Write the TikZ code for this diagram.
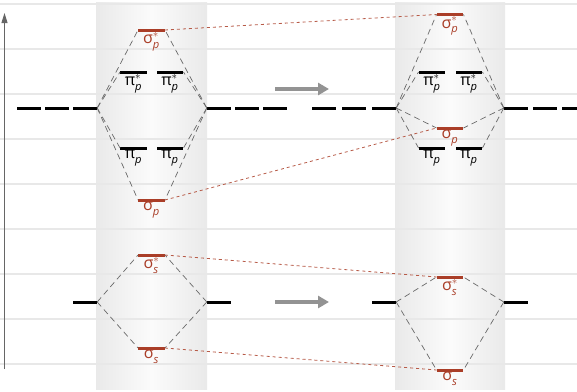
\documentclass[tikz,border=0pt]{standalone}
\usepackage{amsmath}
\usepackage{fontspec}
\newfontfamily\orbfont{Open Sans}
\usetikzlibrary{arrows.meta}
\definecolor{orbred}{RGB}{170,62,40}
\definecolor{gridgray}{RGB}{232,232,232}
\definecolor{conngray}{RGB}{105,105,105}
\newcommand{\mo}[3]{$\text{#1}_{\text{\itshape #2}}^{#3}$}

\begin{document}
\begin{tikzpicture}[x=1pt,y=-1pt,
  bar/.style={fill=#1,inner sep=0pt,minimum height=3pt,minimum width=26.5pt},
  bar/.default=black,
  ao/.style={bar,minimum width=24pt},
  every label/.style={font=\orbfont\fontsize{16}{18}\selectfont,inner sep=0.5pt},
  conn/.style={conngray,line width=0.7pt,dash pattern=on 6pt off 4pt},
  corr/.style={orbred!85,line width=0.8pt,dash pattern=on 3pt off 3pt},
  shiftarrow/.style={gray!85,line width=4pt,-{Triangle[length=11pt,width=12pt]}}]
\useasboundingbox (0,0) rectangle (577,391);
% columns and grid
\shade[left color=gray!17,right color=gray!17,middle color=gray!3] (96,2) rectangle (207,389);
\shade[left color=gray!17,right color=gray!17,middle color=gray!3] (395,2) rectangle (505,389);
\foreach \y in {4,49,...,364} \draw[gridgray,line width=1.5pt] (0,\y) -- (577,\y);
% energy axis
\coordinate (ax0) at (4.5,369);
\coordinate (ax1) at (4.5,13);
\draw[gray!80!black,line width=1pt,-{Triangle[length=10pt,width=6pt]}] (ax0) -- (ax1);

% left diagram
\foreach \x [count=\i] in {29,57,85} \node[ao] (Lpl\i) at (\x,108) {};
\foreach \x [count=\i] in {219,247,275} \node[ao] (Lpr\i) at (\x,108) {};
\node[ao] (Lsl) at (85,302) {};
\node[ao] (Lsr) at (219,302) {};
\node[bar=orbred,label={[orbred]below:\mo{σ}{p}{*}}] (LspA) at (151.5,30) {};
\node[bar,label=below:\mo{π}{p}{*}] (LppA1) at (133.5,72) {};
\node[bar,label=below:\mo{π}{p}{*}] (LppA2) at (170,72) {};
\node[bar,label=below:\mo{π}{p}{}] (Lpp1) at (133.5,148) {};
\node[bar,label=below:\mo{π}{p}{}] (Lpp2) at (170,148) {};
\node[bar=orbred,label={[orbred]below:\mo{σ}{p}{}}] (Lsp) at (151.5,200) {};
\node[bar=orbred,label={[orbred]below:\mo{σ}{s}{*}}] (LssA) at (151.5,255) {};
\node[bar=orbred,label={[orbred]below:\mo{σ}{s}{}}] (Lss) at (151.5,348) {};
\foreach \t in {LspA,LppA1,Lpp1,Lsp} \draw[conn] (Lpl3.east) -- (\t.west);
\foreach \t in {LspA,LppA2,Lpp2,Lsp} \draw[conn] (Lpr1.west) -- (\t.east);
\foreach \t in {LssA,Lss} {
  \draw[conn] (Lsl.east) -- (\t.west);
  \draw[conn] (Lsr.west) -- (\t.east);
}

% shift arrows
\coordinate (g1a) at (275,89);
\coordinate (g1b) at (329,89);
\coordinate (g2a) at (275,302);
\coordinate (g2b) at (329,302);
\draw[shiftarrow] (g1a) -- (g1b);
\draw[shiftarrow] (g2a) -- (g2b);

% right diagram
\foreach \x [count=\i] in {324,354,384} \node[ao] (Rpl\i) at (\x,108) {};
\foreach \x [count=\i] in {516,545,574} \node[ao] (Rpr\i) at (\x,108) {};
\node[ao] (Rsl) at (384,302) {};
\node[ao] (Rsr) at (516,302) {};
\node[bar=orbred,label={[orbred]below:\mo{σ}{p}{*}}] (RspA) at (450,14.5) {};
\node[bar,label=below:\mo{π}{p}{*}] (RppA1) at (432,72) {};
\node[bar,label=below:\mo{π}{p}{*}] (RppA2) at (469,72) {};
\node[bar=orbred,label={[orbred]below:\mo{σ}{p}{}}] (Rsp) at (450,128) {};
\node[bar,label=below:\mo{π}{p}{}] (Rpp1) at (432,148) {};
\node[bar,label=below:\mo{π}{p}{}] (Rpp2) at (469,148) {};
\node[bar=orbred,label={[orbred]below:\mo{σ}{s}{*}}] (RssA) at (450,277) {};
\node[bar=orbred,label={[orbred]below:\mo{σ}{s}{}}] (Rss) at (450,370) {};
\foreach \t in {RspA,RppA1,Rpp1,Rsp} \draw[conn] (Rpl3.east) -- (\t.west);
\foreach \t in {RspA,RppA2,Rpp2,Rsp} \draw[conn] (Rpr1.west) -- (\t.east);
\foreach \t in {RssA,Rss} {
  \draw[conn] (Rsl.east) -- (\t.west);
  \draw[conn] (Rsr.west) -- (\t.east);
}

% correlation of sigma levels
\foreach \a/\b in {LspA/RspA,Lsp/Rsp,LssA/RssA,Lss/Rss}
  \draw[corr] (\a.east) -- (\b.west);
\end{tikzpicture}
\end{document}
